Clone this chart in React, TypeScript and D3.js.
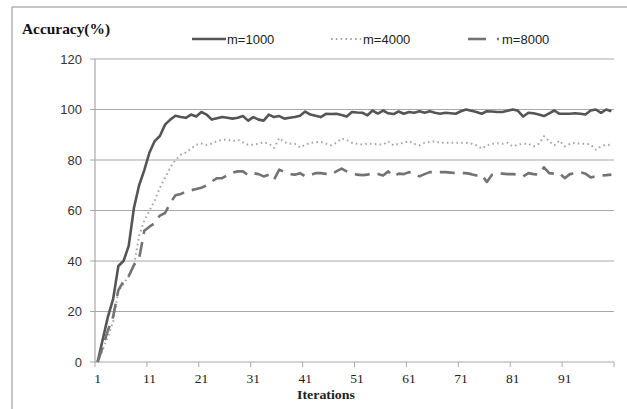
import { scaleLinear, scalePoint, line, range } from 'd3'

const width = 627
const height = 409

const iterations = range(1, 101)
const xTickLabels = [1, 11, 21, 31, 41, 51, 61, 71, 81, 91]
const yTicks = [0, 20, 40, 60, 80, 100, 120]

const m1000 = [
  0, 9, 18, 25, 38, 40, 46, 61, 70, 76,
  83, 87.5, 89.5, 94, 96, 97.5, 97, 96.7, 98, 97.2,
  99, 98, 96, 96.5, 97, 96.7, 96.4, 96.7, 97.4, 95.6,
  97, 96, 95.6, 98, 97, 97.4, 96.4, 96.7, 97, 97.5,
  99.2, 98, 97.5, 97, 98.3, 98.2, 98.3, 97.8, 97.2, 99,
  98.8, 98.7, 97.7, 99.6, 98.4, 99.6, 98.5, 98.2, 99.2, 98.3,
  99, 98.7, 99.3, 98.7, 99.3, 98.7, 98.3, 98.7, 98.5, 98.3,
  99.3, 100, 99.5, 99, 98.3, 99.3, 99.2, 99, 99, 99.5,
  100, 99.5, 97.2, 98.7, 98.5, 98, 97.4, 98.5, 99.6, 98.3,
  98.3, 98.3, 98.5, 98.3, 98, 99.6, 100, 98.7, 100, 99.3,
]

const m4000 = [
  0, 5, 10, 16, 28, 31, 34, 38, 50, 56,
  60, 64, 69, 73, 77, 80, 82, 83, 84.5, 86,
  86.5, 86, 86.5, 87.5, 88, 88, 87.5, 88, 87, 86,
  86, 86.5, 87, 86.5, 84.8, 88.7, 87, 86.5, 86.4, 85,
  86, 86.8, 87, 87.2, 86.5, 85.8, 86.8, 88.5, 88, 86.8,
  86.4, 86.1, 86.5, 86.4, 86.2, 86.1, 87.4, 85.8, 86.4, 86.8,
  87.5, 86.4, 85.8, 86.8, 87.2, 87.4, 86.8, 86.8, 86.8, 86.8,
  86.8, 86.8, 86.5, 85.8, 84.5, 85.8, 86.4, 86.6, 86.4, 86.8,
  85.4, 86.1, 86.4, 86.4, 85.4, 86.4, 89.4, 87.4, 85.8, 87.7,
  85.4, 86.4, 86.8, 86.4, 86.4, 86.1, 84.1, 85.4, 86.1, 85.8,
]

const m8000 = [
  0, 6, 12.6, 18, 28.5, 32, 34, 38.4, 41, 52,
  53.6, 55, 58, 59, 63, 66, 66.5, 67.5, 68, 68.5,
  69, 70, 71.5, 72.8, 72.8, 74, 75, 75.5, 75.5, 74,
  74.8, 74.4, 73.5, 74.2, 72.2, 76.2, 75.2, 74.4, 74.2, 74.8,
  73.5, 74, 74.8, 74.8, 74.5, 74.2, 75.5, 76.6, 75.5, 74.8,
  74.2, 74, 74.2, 74.8, 74.5, 73.9, 75.5, 73.5, 74.6, 74.4,
  75.2, 74.8, 73.5, 74.4, 75.2, 75.2, 75.2, 75.2, 75, 74.8,
  74.8, 74.8, 74.4, 73.9, 74.2, 71.3, 74.2, 74.8, 74.6, 74.4,
  74.4, 74.2, 73.5, 74.8, 74.4, 74.2, 77.1, 74.8, 74.6, 74.8,
  72.8, 74.4, 74.8, 75.2, 74.6, 73.1, 73.6, 73.9, 74, 74.2,
]

const seriesNames = ['m=1000', 'm=4000', 'm=8000']

const styles = [
  { stroke: '#555555', width: 2.6, dash: undefined },
  { stroke: '#a6a6a6', width: 2, dash: '1.6,3.2' },
  { stroke: '#737373', width: 2.6, dash: '15,8' },
]

const plot = { left: 95, right: 614, top: 59, bottom: 362 }

function App() {
  const xScale = scalePoint<number>()
    .domain(iterations)
    .range([plot.left, plot.right])
    .padding(0.5)

  const yScale = scaleLinear()
    .domain([0, 120])
    .range([plot.bottom, plot.top])

  const step = xScale.step()

  const lineGen = line<number>()
    .x((_, i) => xScale(iterations[i]) as number)
    .y(d => yScale(d))

  const series = [m1000, m4000, m8000]

  // tick marks sit between categories, every 10 iterations
  const xTickPos = [...xTickLabels.map(v => (xScale(v) as number) - step / 2), plot.right]

  const legendX = [192, 331, 468]

  return (
    <svg width={width} height={height} style={{ position: 'absolute', left: 0, top: 0 }}>
      <rect x={0} y={0} width={width} height={height} fill="#ffffff" />
      <line x1={12} y1={7} x2={width} y2={7} stroke="#8c8c8c" />
      <line x1={12} y1={7} x2={12} y2={height} stroke="#8c8c8c" />

      <text x={22} y={34} fontFamily="Liberation Serif" fontWeight="bold" fontSize={15}
        textLength={88} lengthAdjust="spacingAndGlyphs" fill="#111">Accuracy(%)</text>

      {yTicks.map(t => (
        <g key={t}>
          {t > 0 && (
            <line x1={plot.left} x2={plot.right} y1={yScale(t)} y2={yScale(t)} stroke="#a8a8a8" strokeWidth={1.2} />
          )}
          <line x1={plot.left - 5} x2={plot.left} y1={yScale(t)} y2={yScale(t)} stroke="#a8a8a8" />
          <text x={82} y={yScale(t) + 4.5} textAnchor="end" fontFamily="Liberation Sans" fontSize={13} fill="#333">{t}</text>
        </g>
      ))}

      <line x1={plot.left} x2={plot.left} y1={plot.top} y2={plot.bottom} stroke="#a8a8a8" strokeWidth={1.2} />
      <line x1={plot.left} x2={plot.right} y1={plot.bottom} y2={plot.bottom} stroke="#a8a8a8" strokeWidth={1.2} />
      {xTickPos.map((p, i) => (
        <line key={i} x1={p} x2={p} y1={plot.bottom} y2={plot.bottom + 5} stroke="#a8a8a8" />
      ))}
      {xTickLabels.map(v => (
        <text key={v} x={xScale(v)} y={383} textAnchor="middle" fontFamily="Liberation Serif" fontSize={13.5} fill="#222">{v}</text>
      ))}
      <text x={326} y={399} textAnchor="middle" fontFamily="Liberation Serif" fontWeight="bold" fontSize={12}
        textLength={58} lengthAdjust="spacingAndGlyphs" fill="#222">Iterations</text>

      {series.map((s, i) => (
        <path key={i} d={lineGen(s) ?? ''} fill="none" stroke={styles[i].stroke}
          strokeWidth={styles[i].width} strokeDasharray={styles[i].dash} strokeLinejoin="round" />
      ))}

      {/* legend */}
      <line x1={legendX[0]} x2={legendX[0] + 34} y1={39} y2={39} stroke={styles[0].stroke} strokeWidth={2.6} />
      <text x={legendX[0] + 35} y={44} fontFamily="Liberation Sans" fontSize={13} fill="#222">{seriesNames[0]}</text>
      <line x1={legendX[1]} x2={legendX[1] + 30} y1={39} y2={39} stroke={styles[1].stroke} strokeWidth={2} strokeDasharray="1.6,3.2" />
      <text x={legendX[1] + 32} y={44} fontFamily="Liberation Sans" fontSize={13} fill="#222">{seriesNames[1]}</text>
      <line x1={legendX[2]} x2={legendX[2] + 18} y1={39} y2={39} stroke={styles[2].stroke} strokeWidth={2.6} />
      <line x1={legendX[2] + 29} x2={legendX[2] + 31} y1={39} y2={39} stroke={styles[2].stroke} strokeWidth={2.6} />
      <text x={legendX[2] + 34} y={44} fontFamily="Liberation Sans" fontSize={13} fill="#222">{seriesNames[2]}</text>
    </svg>
  )
}

export default App
